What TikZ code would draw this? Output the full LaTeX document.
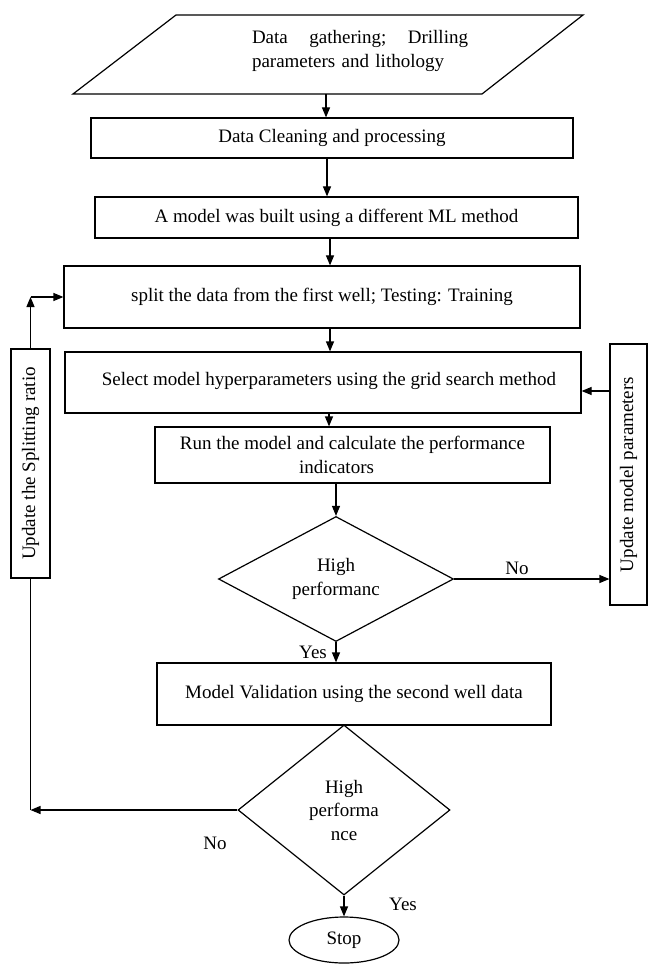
\documentclass[tikz,border=0pt]{standalone}
\usepackage{fontspec}
\setmainfont{Liberation Serif}
\usetikzlibrary{shapes.geometric,arrows.meta,calc}
\begin{document}
\begin{tikzpicture}[x=1pt,y=-1pt,
  every node/.style={font=\fontsize{19}{23.5}\selectfont},
  ln/.style={line width=1.2pt},
  box/.style={draw, line width=1.2pt, inner sep=0pt, align=center},
  dia/.style={draw, line width=1.2pt, diamond, inner sep=0pt, align=center},
  arr/.style={line width=1.2pt, -{Triangle[length=10pt,width=8pt]}},
  lbl/.style={inner sep=0pt}
]
\useasboundingbox (0,0) rectangle (648,965);
% input parallelogram
\draw[ln] (176,15) -- (583,15) -- (482,94) -- (73,94) -- cycle;
\node[lbl, text width=216pt, align=left] (para) at (360,51)
  {Data\hfill gathering;\hfill Drilling\\parameters and lithology};
\coordinate (pbot) at (326,94);

\node[box, minimum width=482pt, minimum height=40pt] (clean) at (332,138) {Data Cleaning and processing};
\node[box, minimum width=483pt, minimum height=41pt] (model) at (336.5,217.5) {A model was built using a different ML method};
\node[box, minimum width=516pt, minimum height=62pt] (split) at (322,297) {split the data from the first well; Testing: Training};
\node[box, minimum width=516pt, minimum height=61pt] (select) at (323,382.5) {\raisebox{7pt}{\hspace*{12pt}Select model hyperparameters using the grid search method}};
\node[box, minimum width=395pt, minimum height=56pt] (run) at (352.5,455) {Run the model and calculate the performance\\\hspace*{-32pt}indicators};
\node[dia, minimum width=235pt, minimum height=125pt, shape aspect=1.88] (d1) at (336,579) {High\\performanc};
\node[box, minimum width=394pt, minimum height=62pt] (valid) at (354,694) {Model Validation using the second well data};
\node[dia, minimum width=212pt, minimum height=170pt, shape aspect=1.25] (d2) at (344,810) {High\\performa\\nce};
\node[draw, line width=1.2pt, ellipse, inner sep=0pt, minimum width=110pt, minimum height=46pt] (stop) at (344,940) {Stop};

\node[box, rotate=90, minimum width=229pt, minimum height=39pt] (leftbox) at (30.5,463.5) {Update the Splitting ratio};
\node[box, rotate=90, minimum width=261pt, minimum height=37pt] (rightbox) at (628.5,474.5) {Update model parameters};

% labels
\node[lbl] (no1) at (517,568) {No};
\node[lbl] (yes1) at (313,652) {Yes};
\node[lbl] (no2) at (215,843) {No};
\node[lbl] (yes2) at (403,904) {Yes};

% main flow
\draw[arr] (pbot) -- (pbot |- clean.north);
\coordinate (a1) at ($(clean.south)+(-5,0)$);
\draw[arr] (a1) -- (a1 |- model.north);
\coordinate (a2) at ($(model.south)+(-6.5,0)$);
\draw[arr] (a2) -- (a2 |- split.north);
\coordinate (a3) at ($(split.south)+(8,0)$);
\draw[arr] (a3) -- (a3 |- select.north);
\coordinate (a4) at ($(select.south)+(6,0)$);
\draw[arr] (a4) -- (a4 |- run.north);
\draw[arr] (d1.north |- run.south) -- (d1.north);
\draw[arr] (d1.south) -- (d1.south |- valid.north);
\draw[arr] (d2.south) -- (stop.north);

% right loop
\draw[arr] (d1.east) -- (d1.east -| rightbox.north);
\coordinate (r1) at ($(select.east)+(0,8.5)$);
\draw[arr] (r1 -| rightbox.north) -- (r1);

% left loop
\coordinate (c2) at (leftbox.west |- d2.west);
\draw[arr] (d2.west) -- (c2);
\draw[ln] (c2) -- (leftbox.west);
\coordinate (c1) at (leftbox.east |- split.west);
\draw[arr] (leftbox.east) -- (c1);
\draw[arr] (c1) -- (split.west);
\end{tikzpicture}
\end{document}
